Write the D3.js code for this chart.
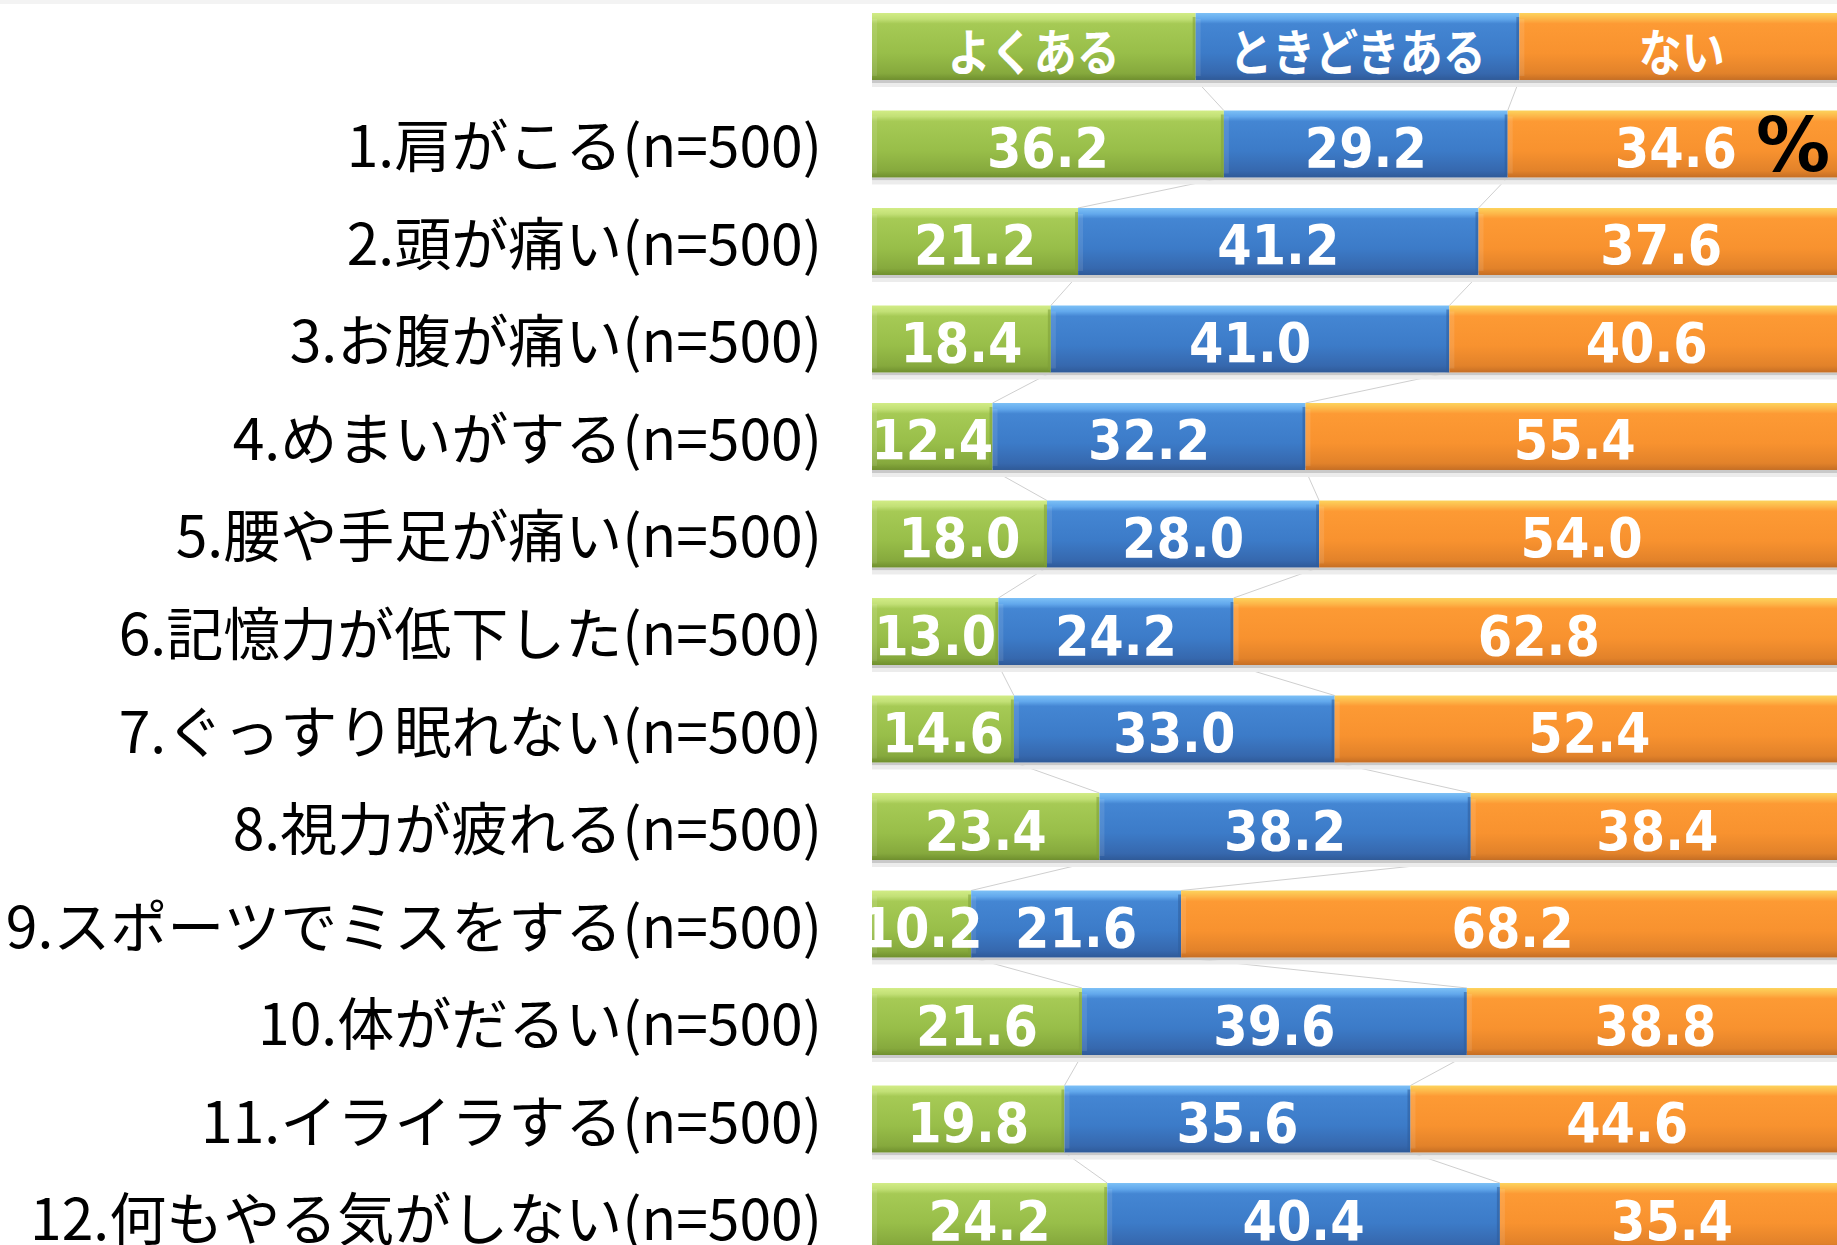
<!DOCTYPE html>
<html><head><meta charset="utf-8">
<script src="https://cdn.jsdelivr.net/npm/d3@7"></script>
<style>
html,body{margin:0;padding:0;background:#fff;overflow:hidden}
</style></head>
<body>
<svg id="chart" width="1837" height="1245"></svg>
<script>
const categories = [
  "1.肩がこる(n=500)",
  "2.頭が痛い(n=500)",
  "3.お腹が痛い(n=500)",
  "4.めまいがする(n=500)",
  "5.腰や手足が痛い(n=500)",
  "6.記憶力が低下した(n=500)",
  "7.ぐっすり眠れない(n=500)",
  "8.視力が疲れる(n=500)",
  "9.スポーツでミスをする(n=500)",
  "10.体がだるい(n=500)",
  "11.イライラする(n=500)",
  "12.何もやる気がしない(n=500)"
];
const seriesNames = ["よくある", "ときどきある", "ない"];
const often     = [36.2, 21.2, 18.4, 12.4, 18.0, 13.0, 14.6, 23.4, 10.2, 21.6, 19.8, 24.2];
const sometimes = [29.2, 41.2, 41.0, 32.2, 28.0, 24.2, 33.0, 38.2, 21.6, 39.6, 35.6, 40.4];
const never     = [34.6, 37.6, 40.6, 55.4, 54.0, 62.8, 52.4, 38.4, 68.2, 38.8, 44.6, 35.4];
const legendShares = [33.3, 33.3, 33.4];
const unitLabel = "%";

const svg = d3.select("#chart");
const W = 1837, H = 1245;

svg.append("rect").attr("x",0).attr("y",0).attr("width",W).attr("height",4).attr("fill","#f3f3f3");

const palettes = [
  {id:"gGreen",  stops:[["0%","#d2ec86"],["9%","#c2e076"],["16%","#a6ca55"],["60%","#98be49"],["90%","#86a93d"],["100%","#6f8f2e"]], edge:"#7d9e38"},
  {id:"gBlue",   stops:[["0%","#7cc0f6"],["9%","#62a8ec"],["16%","#4486d3"],["60%","#3c7bc8"],["90%","#3668ae"],["100%","#2f5a98"]], edge:"#2e5c9c"},
  {id:"gOrange", stops:[["0%","#fdd35c"],["9%","#fdb548"],["16%","#fd9a34"],["60%","#f8922f"],["90%","#e2822a"],["100%","#c56e24"]], edge:"#d77926"}
];
const defs = svg.append("defs");
palettes.forEach(p => {
  const lg = defs.append("linearGradient").attr("id", p.id).attr("x1",0).attr("y1",0).attr("x2",0).attr("y2",1);
  p.stops.forEach(s => lg.append("stop").attr("offset", s[0]).attr("stop-color", s[1]));
});

const rowKeys = ["__legend__"].concat(categories);
const y = d3.scaleBand().domain(rowKeys).range([13, 13 + 13*97.5 - 30.5]).paddingInner(0.313).paddingOuter(0);
const x = d3.scaleLinear().domain([0, 100]).range([872, 1844]);
const bh = y.bandwidth();

// rows: legend + data
const rows = [{key:"__legend__", values: legendShares, legend:true}]
  .concat(categories.map((c,i) => ({key:c, values:[often[i], sometimes[i], never[i]], legend:false})));

rows.forEach(r => {
  let acc = 0;
  r.segs = r.values.map((v,j) => { const s = {x0:acc, x1:acc+v, v, j}; acc += v; return s; });
});

// connector lines
const connG = svg.append("g");
for (let i = 0; i < rows.length - 1; i++) {
  const a = rows[i], b = rows[i+1];
  for (let j = 0; j < 2; j++) {
    connG.append("line")
      .attr("x1", x(a.segs[j].x1)).attr("y1", y(a.key) + bh)
      .attr("x2", x(b.segs[j].x1)).attr("y2", y(b.key))
      .attr("stroke", "#cfcfcf").attr("stroke-width", 1);
  }
}

// bars
const barG = svg.append("g");
rows.forEach(r => {
  const y0 = y(r.key);
  // shadow
  barG.append("rect").attr("x", x(0)).attr("y", y0 + bh).attr("width", x(100) - x(0)).attr("height", 3).attr("fill", "#c9c9c9");
  barG.append("rect").attr("x", x(0)).attr("y", y0 + bh + 3).attr("width", x(100) - x(0)).attr("height", 4).attr("fill", "#ececec");
  r.segs.forEach(s => {
    const p = palettes[s.j];
    const sx = x(s.x0), sw = x(s.x1) - x(s.x0);
    barG.append("rect").attr("x", sx).attr("y", y0).attr("width", sw).attr("height", bh)
      .attr("fill", `url(#${p.id})`);
    // left bevel highlight
    barG.append("rect").attr("x", sx).attr("y", y0 + 6).attr("width", 5).attr("height", bh - 10)
      .attr("fill", "#ffffff").attr("opacity", 0.10);
    // right edge
    barG.append("rect").attr("x", sx + sw - 3).attr("y", y0 + 4).attr("width", 3).attr("height", bh - 6)
      .attr("fill", p.edge).attr("opacity", 0.55);
  });
});

// value labels
const fmt = d3.format(".1f");
const valG = svg.append("g");
rows.filter(r => !r.legend).forEach(r => {
  const cy = y(r.key) + bh/2;
  r.segs.forEach(s => {
    valG.append("text")
      .attr("x", (x(s.x0) + x(s.x1)) / 2).attr("y", cy + 23)
      .attr("text-anchor", "middle")
      .attr("font-family", "'DejaVu Sans Condensed', 'DejaVu Sans', sans-serif")
      .attr("font-weight", "bold").attr("font-size", 55)
      .attr("fill", "#ffffff")
      .text(fmt(s.v));
  });
});

// legend labels inside header bar
const legRow = rows[0];
legRow.segs.forEach(s => {
  const cx = (x(s.x0) + x(s.x1)) / 2;
  svg.append("g").attr("transform", `translate(${cx},${y(legRow.key) + 58})`)
    .append("text")
    .attr("transform", "scale(0.86,1)")
    .attr("text-anchor", "middle")
    .attr("font-family", "'Noto Sans CJK JP', sans-serif")
    .attr("font-weight", "bold").attr("font-size", 50)
    .attr("fill", "#ffffff")
    .text(seriesNames[s.j]);
});

// unit label
svg.append("text")
  .attr("x", 1793).attr("y", y(categories[0]) + bh/2 + 27)
  .attr("text-anchor", "middle")
  .attr("font-family", "'DejaVu Sans', sans-serif")
  .attr("font-weight", "bold").attr("font-size", 74)
  .attr("fill", "#000")
  .text(unitLabel);

// category labels (axis)
const axis = d3.axisLeft(y).tickSize(0).tickPadding(0).tickValues(categories);
const axG = svg.append("g").attr("transform", "translate(822,0)").call(axis);
axG.select(".domain").remove();
axG.selectAll("text")
  .attr("x", 0).attr("dy", null).attr("y", 23.5)
  .attr("text-anchor", "end")
  .attr("font-family", "'Noto Sans CJK JP', sans-serif")
  .attr("font-size", 57)
  .attr("fill", "#000");
</script>
</body></html>
